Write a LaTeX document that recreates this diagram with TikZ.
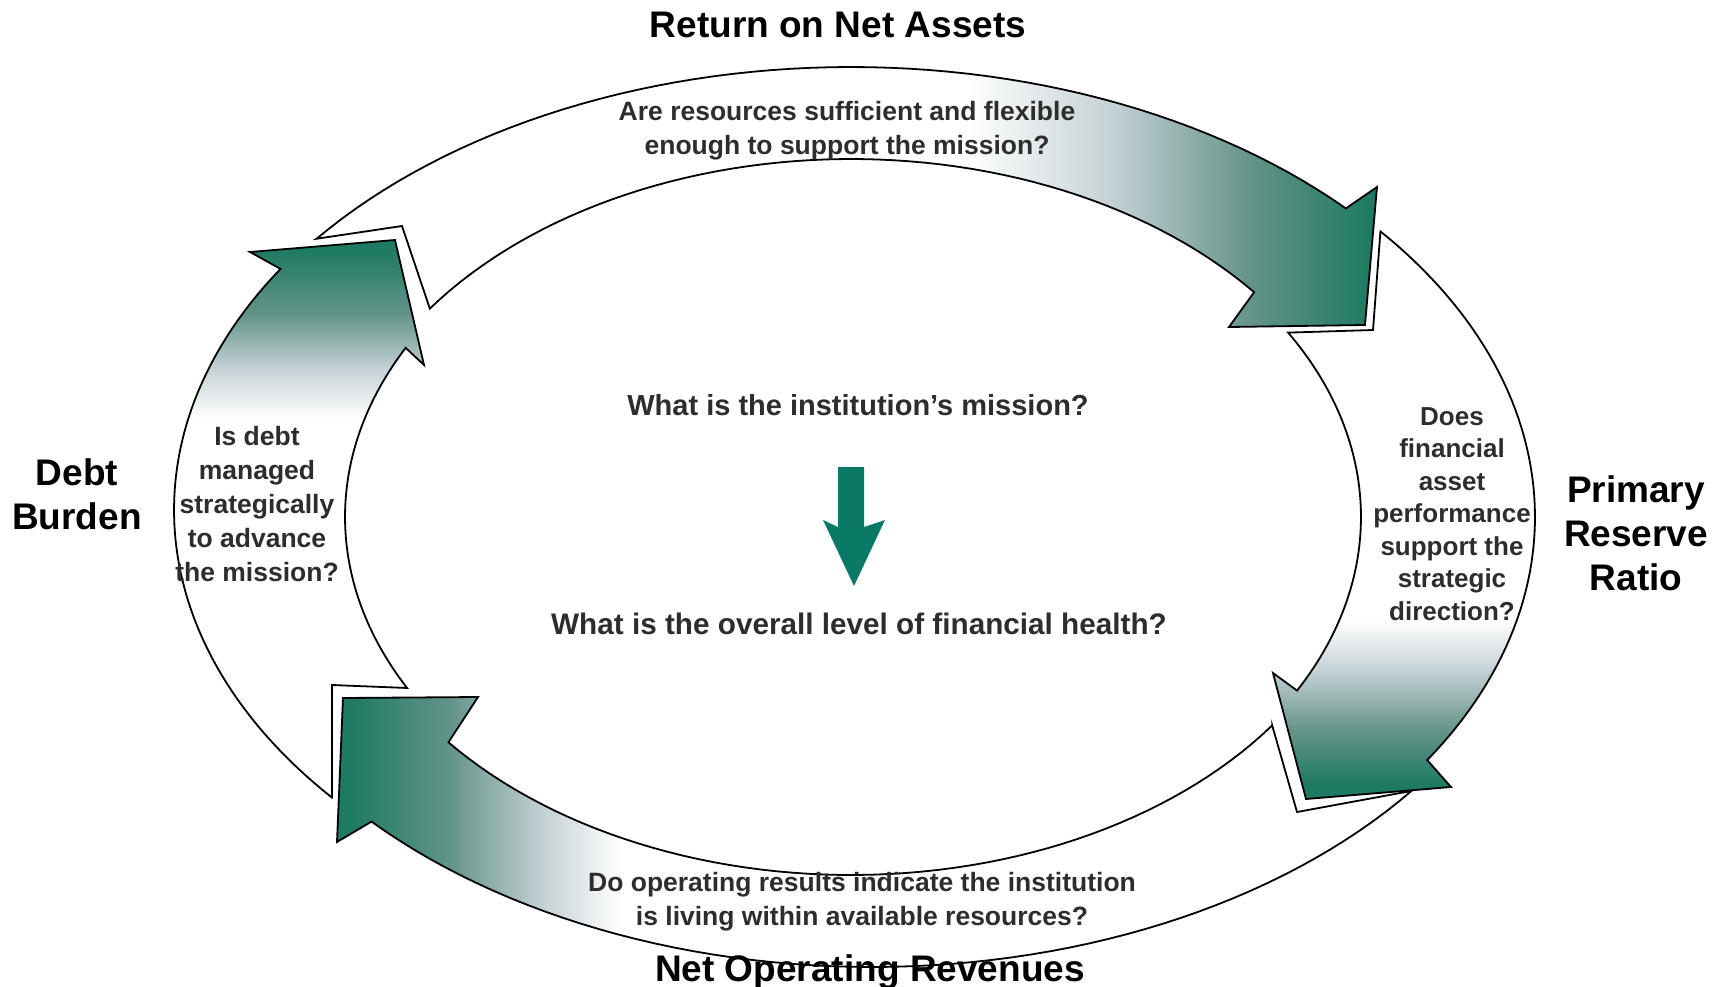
\documentclass[tikz,border=0pt]{standalone}
\usepackage{fontspec}
\setmainfont{Liberation Sans}

\definecolor{arrowgreen}{RGB}{30,122,98}
\definecolor{tealgray}{RGB}{100,148,138}
\definecolor{palegray}{RGB}{198,210,214}
\definecolor{qgray}{RGB}{45,45,45}
\definecolor{centergreen}{RGB}{10,122,102}

% gradients of the four curved arrows (bounding box = 25bp..75bp)
\pgfdeclarehorizontalshading{topband}{100bp}{color(0bp)=(white); color(55.6bp)=(white); color(62.4bp)=(palegray); color(69bp)=(tealgray); color(74.7bp)=(arrowgreen); color(100bp)=(arrowgreen)}
\pgfdeclareverticalshading{rightband}{100bp}{color(0bp)=(arrowgreen); color(26.2bp)=(arrowgreen); color(31.1bp)=(tealgray); color(36.4bp)=(palegray); color(40.8bp)=(white); color(100bp)=(white)}
\pgfdeclarehorizontalshading{bottomband}{100bp}{color(0bp)=(arrowgreen); color(25.6bp)=(arrowgreen); color(30.3bp)=(tealgray); color(34.7bp)=(palegray); color(38.2bp)=(white); color(100bp)=(white)}
\pgfdeclareverticalshading{leftband}{100bp}{color(0bp)=(white); color(58.9bp)=(white); color(63.4bp)=(palegray); color(68.3bp)=(tealgray); color(74.1bp)=(arrowgreen); color(100bp)=(arrowgreen)}

\begin{document}
\begin{tikzpicture}[x=1pt,y=-1pt,
  band/.style={draw=black, line width=1.8pt, line join=miter},
  qlabel/.style={inner sep=0pt, align=center, text=qgray,
    font=\bfseries\fontsize{26.5}{34}\selectfont},
  sidelabel/.style={inner sep=0pt, align=center,
    font=\bfseries\fontsize{37}{44}\selectfont},
  midlabel/.style={inner sep=0pt, text=qgray,
    font=\bfseries\fontsize{29}{35}\selectfont}]

\useasboundingbox (0,0) rectangle (1722,986);

% top arrow: left to right over the top
\shadedraw[band, shading=topband]
  ({851+680*cos(-141.8)},{517+450*sin(-141.8)}) -- (402,226)
  -- plot[domain=-144.4:-38.9, samples=60, variable=\t] ({851+518*cos(\t)},{517+358*sin(\t)})
  -- (1229,327) -- (1365,325) -- (1377,187)
  -- plot[domain=-43.3:-141.8, samples=60, variable=\t] ({851+680*cos(\t)},{517+450*sin(\t)})
  -- cycle;

% right arrow: downwards on the right side
\shadedraw[band, shading=rightband]
  ({855+680*cos(-39.4)},{517+450*sin(-39.4)}) -- (1373,330)
  -- plot[domain=-31:29, samples=60, variable=\t] ({851+510*cos(\t)},{517+358*sin(\t)})
  -- (1273,673) -- (1306,799) -- (1451,787)
  -- plot[domain=32.7:-39.4, samples=60, variable=\t] ({855+680*cos(\t)},{517+450*sin(\t)})
  -- cycle;

% bottom arrow: right to left under the bottom
\shadedraw[band, shading=bottomband]
  ({851+518*cos(35.6)},{517+358*sin(35.6)}) -- (1297,812)
  -- plot[domain=37.5:137.4, samples=60, variable=\t] ({872+680*cos(\t)},{517+450*sin(\t)})
  -- (337,842) -- (343,698) -- (478,697)
  -- plot[domain=141:35.6, samples=60, variable=\t] ({851+518*cos(\t)},{517+358*sin(\t)})
  -- cycle;

% left arrow: upwards on the left side
\shadedraw[band, shading=leftband]
  ({858+684*cos(140.26)},{510+450*sin(140.26)}) -- (332,685)
  -- plot[domain=151.47:208.2, samples=60, variable=\t] ({856+511*cos(\t)},{517+358*sin(\t)})
  -- (424,365) -- (395,240) -- (250,252)
  -- plot[domain=212.4:140.26, samples=60, variable=\t] ({858+684*cos(\t)},{510+450*sin(\t)})
  -- cycle;

% central downward arrow
\fill[centergreen] (838,467) -- (864,467) -- (864,527) -- (885,520)
  -- (854,586) -- (823,520) -- (838,527) -- cycle;

% questions inside the arrows
\node[qlabel] (qtop) at (847,130.5)
  {Are resources sufficient and flexible\\enough to support the mission?};
\node[qlabel, font=\bfseries\fontsize{26}{32.5}\selectfont] (qright) at (1452,514)
  {Does\\financial\\asset\\performance\\support the\\strategic\\direction?};
\node[qlabel] (qbottom) at (862,901.5)
  {Do operating results indicate the institution\\is living within available resources?};
\node[qlabel] (qleft) at (257,504)
  {Is debt\\managed\\strategically\\to advance\\the mission?};

% central questions
\node[midlabel, anchor=base] (mission) at (858,415.5) {What is the institution's mission?};
\node[midlabel, anchor=base, font=\bfseries\fontsize{29.7}{35}\selectfont] (health) at (859,634.5) {What is the overall level of financial health?};

% ratio names
\node[sidelabel, anchor=base] (rna) at (838,37) {Return on Net Assets};
\node[sidelabel] (debt) at (77,494) {Debt\\Burden};
\node[sidelabel] (prr) at (1636,533) {Primary\\Reserve\\Ratio};
\node[sidelabel, anchor=base] (nor) at (870,981) {Net Operating Revenues};

\end{tikzpicture}
\end{document}
